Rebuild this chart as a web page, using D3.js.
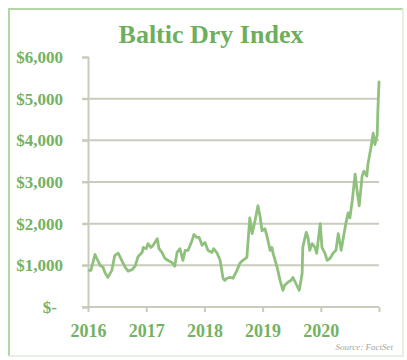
<!DOCTYPE html>
<html>
<head>
<meta charset="utf-8">
<script src="https://cdn.jsdelivr.net/npm/d3@7"></script>
<style>
  html, body { margin: 0; padding: 0; background: #ffffff; }
  svg { display: block; }
</style>
</head>
<body>
<svg id="chart" width="407" height="360"></svg>
<script>
// ---- data ----
const title = "Baltic Dry Index";
const source = "Source: FactSet";
const yearTicks = [2016, 2017, 2018, 2019, 2020, 2021];
const yearLabels = ["2016", "2017", "2018", "2019", "2020", ""];
const valueTicks = [0, 1000, 2000, 3000, 4000, 5000, 6000];
const valueLabels = ["$-", "$1,000", "$2,000", "$3,000", "$4,000", "$5,000", "$6,000"];

const times = [
  2016.02, 2016.05, 2016.12, 2016.15, 2016.21, 2016.26, 2016.29, 2016.34, 2016.41, 2016.46,
  2016.52, 2016.58, 2016.64, 2016.69, 2016.76, 2016.81, 2016.86, 2016.93, 2016.95, 2017.00,
  2017.03, 2017.08, 2017.12, 2017.19, 2017.22, 2017.27, 2017.32, 2017.37, 2017.44, 2017.49,
  2017.53, 2017.58, 2017.63, 2017.67, 2017.72, 2017.79, 2017.82, 2017.87, 2017.91, 2017.96,
  2018.01, 2018.06, 2018.13, 2018.16, 2018.22, 2018.27, 2018.32, 2018.35, 2018.39, 2018.44,
  2018.49, 2018.56, 2018.61, 2018.66, 2018.73, 2018.78, 2018.82, 2018.87, 2018.92, 2018.96,
  2018.99, 2019.04, 2019.08, 2019.13, 2019.16, 2019.18, 2019.25, 2019.30, 2019.35, 2019.38,
  2019.44, 2019.49, 2019.52, 2019.57, 2019.63, 2019.68, 2019.69, 2019.75, 2019.78, 2019.81,
  2019.85, 2019.90, 2019.93, 2019.99, 2020.02, 2020.07, 2020.11, 2020.16, 2020.21, 2020.26,
  2020.30, 2020.35, 2020.38, 2020.43, 2020.47, 2020.50, 2020.54, 2020.59, 2020.62, 2020.66,
  2020.71, 2020.74, 2020.79, 2020.81, 2020.86, 2020.90, 2020.93, 2020.97, 2020.98, 2021.00
];
const values = [
  880, 880, 1260, 1170, 1000, 950, 830, 710, 880, 1240,
  1290, 1120, 950, 860, 900, 980, 1210, 1310, 1430, 1400,
  1520, 1430, 1480, 1640, 1400, 1310, 1170, 1120, 1070, 980,
  1310, 1400, 1120, 1360, 1360, 1600, 1740, 1670, 1670, 1480,
  1550, 1360, 1310, 1400, 1290, 1120, 690, 640, 690, 710,
  690, 880, 1050, 1120, 1190, 2140, 1760, 2070, 2430, 2140,
  1830, 1880, 1670, 1360, 1430, 1290, 950, 640, 400, 520,
  600, 640, 710, 570, 400, 810, 1430, 1790, 1670, 1360,
  1520, 1430, 1290, 2000, 1430, 1290, 1120, 1170, 1290, 1360,
  1760, 1360, 1600, 2000, 2260, 2140, 2550, 3190, 2830, 2430,
  3140, 3260, 3140, 3430, 3810, 4170, 3900, 4140, 4690, 5400
];

// ---- layout ----
const svg = d3.select("#chart");
const mLeft = 88, mRight = 379, mTop = 57, mBottom = 307;
const textGreen = "#74b263";
const lineGreen = "#8fc17d";
const gridGray = "#c9ccbd";

const x = d3.scaleLinear().domain([2016, 2021]).range([mLeft, mRight]);
const y = d3.scaleLinear().domain([0, 6000]).range([mBottom, mTop]);

// frame: strong left/top edges, faint right/bottom edges
const frame = svg.append("g").attr("fill", "none").attr("stroke-width", 2);
frame.append("path").attr("d", "M9,356V9H403").attr("stroke", "#b2d6a5");
frame.append("path").attr("d", "M403,9V356H9").attr("stroke", "#e6efe2");

// title
svg.append("text")
  .attr("x", 211).attr("y", 43)
  .attr("text-anchor", "middle")
  .attr("font-family", "'Liberation Serif', serif")
  .attr("font-weight", "bold")
  .attr("font-size", 26)
  .attr("fill", "#6daf5c")
  .text(title);

// horizontal gridlines
const grid = svg.append("g");
grid.selectAll("line")
  .data(valueTicks.filter(v => v > 0 && v < 6000))
  .join("line")
  .attr("x1", mLeft - 6).attr("x2", mRight)
  .attr("y1", d => y(d)).attr("y2", d => y(d))
  .attr("stroke", gridGray).attr("stroke-width", 2);

// y axis
const yAxis = d3.axisLeft(y)
  .tickValues(valueTicks)
  .tickSize(6)
  .tickPadding(19)
  .tickFormat((d, i) => valueLabels[i]);
const yg = svg.append("g").attr("transform", `translate(${mLeft},0)`).call(yAxis);
yg.select(".domain").attr("stroke", gridGray).attr("stroke-width", 2);
yg.selectAll(".tick line").attr("stroke", gridGray).attr("stroke-width", 2);
yg.selectAll(".tick text")
  .attr("font-family", "'Liberation Serif', serif")
  .attr("font-weight", "bold")
  .attr("font-size", 17)
  .attr("fill", textGreen)
  .attr("dx", d => d === 0 ? -6 : 0);

// x axis
const xAxis = d3.axisBottom(x)
  .tickValues(yearTicks)
  .tickSize(5)
  .tickPadding(12)
  .tickFormat((d, i) => yearLabels[i]);
const xg = svg.append("g").attr("transform", `translate(0,${mBottom})`).call(xAxis);
xg.select(".domain").attr("d", `M${mLeft - 6},0H${mRight}`).attr("stroke", gridGray).attr("stroke-width", 2);
xg.selectAll(".tick line").attr("stroke", gridGray).attr("stroke-width", 2);
xg.selectAll(".tick text")
  .attr("font-family", "'Liberation Serif', serif")
  .attr("font-weight", "bold")
  .attr("font-size", 18)
  .attr("fill", textGreen);

// data line
const pts = times.map((t, i) => [t, values[i]]);
svg.append("path")
  .datum(pts)
  .attr("fill", "none")
  .attr("stroke", lineGreen)
  .attr("stroke-width", 2.8)
  .attr("stroke-linejoin", "round")
  .attr("stroke-linecap", "round")
  .attr("d", d3.line().x(d => x(d[0])).y(d => y(d[1])));

// source
svg.append("text")
  .attr("x", 393).attr("y", 350)
  .attr("text-anchor", "end")
  .attr("font-family", "'Liberation Serif', serif")
  .attr("font-style", "italic")
  .attr("font-size", 9)
  .attr("fill", "#a3a89a")
  .text(source);
</script>
</body>
</html>
